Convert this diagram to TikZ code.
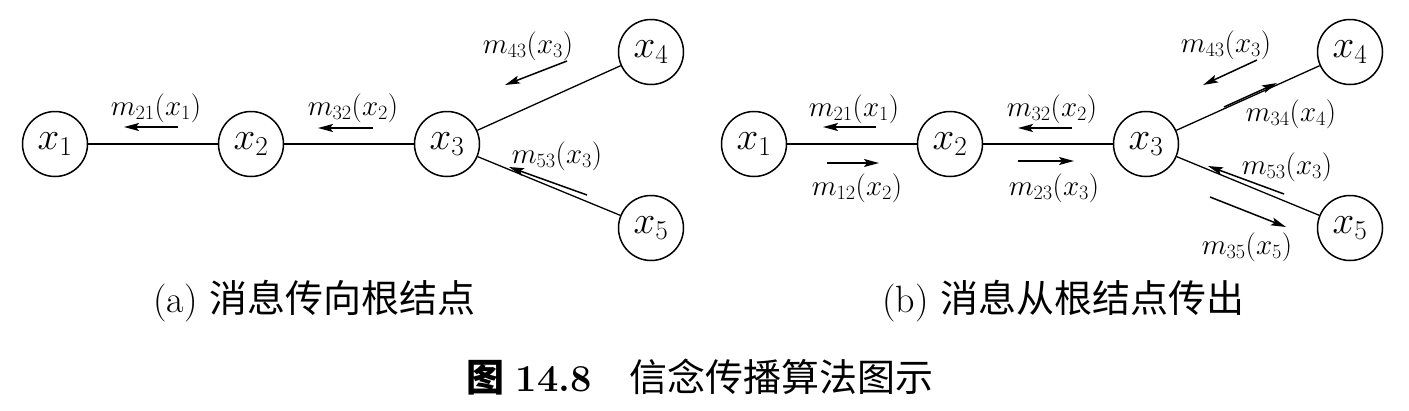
\RequirePackage{fix-cm}
\documentclass[tikz,border=0pt]{standalone}
\usepackage{fontspec}
\newfontfamily\cjk{Noto Sans CJK SC}
\usetikzlibrary{arrows.meta}
\tikzset{
  var/.style={circle, draw, line width=1.5pt, minimum size=65pt, inner sep=0pt,
    font=\fontsize{39}{41}\selectfont},
  msg/.style={inner sep=0pt, font=\fontsize{29}{31}\selectfont},
  link/.style={line width=1.3pt},
  flow/.style={line width=1.5pt, -{Stealth[length=15pt,width=8pt,inset=3pt]}},
  capt/.style={inner sep=0pt, font=\fontsize{38}{40}\selectfont},
}
\begin{document}
\begin{tikzpicture}[x=1pt,y=-1pt]
  \useasboundingbox (0,0) rectangle (1409,410);
  % (a) messages towards the root
  \node[var] (a1) at (55,144) {$x_1$};
  \node[var] (a2) at (251,144) {$x_2$};
  \node[var] (a3) at (447,144) {$x_3$};
  \node[var] (a4) at (651,52) {$x_4$};
  \node[var] (a5) at (651,228) {$x_5$};
  \draw[link] (a1) -- (a2);
  \draw[link] (a2) -- (a3);
  \draw[link] (a3) -- (a4);
  \draw[link] (a3) -- (a5);
  \coordinate (a21s) at (178,127); \coordinate (a21e) at (124,127);
  \coordinate (a32s) at (373,128); \coordinate (a32e) at (318,128);
  \coordinate (a43s) at (567,61);  \coordinate (a43e) at (505,85);
  \coordinate (a53s) at (587,195); \coordinate (a53e) at (509,167);
  \draw[flow] (a21s) -- (a21e);
  \draw[flow] (a32s) -- (a32e);
  \draw[flow] (a43s) -- (a43e);
  \draw[flow] (a53s) -- (a53e);
  \node[msg] (la21) at (156,108) {$m_{21}(x_1)$};
  \node[msg] (la32) at (353,108) {$m_{32}(x_2)$};
  \node[msg] (la43) at (528,46) {$m_{43}(x_3)$};
  \node[msg] (la53) at (557,156) {$m_{53}(x_3)$};
  \node[capt, anchor=west] (capa) at (153,301) {(a) {\cjk 消息传向根结点}};
  % (b) messages away from the root
  \begin{scope}[xshift=699pt]
    \node[var] (b1) at (55,144) {$x_1$};
    \node[var] (b2) at (251,144) {$x_2$};
    \node[var] (b3) at (447,144) {$x_3$};
    \node[var] (b4) at (651,52) {$x_4$};
    \node[var] (b5) at (651,228) {$x_5$};
    \draw[link] (b1) -- (b2);
    \draw[link] (b2) -- (b3);
    \draw[link] (b3) -- (b4);
    \draw[link] (b3) -- (b5);
    \coordinate (b21s) at (177,127); \coordinate (b21e) at (124,127);
    \coordinate (b12s) at (128,163); \coordinate (b12e) at (180,163);
    \coordinate (b32s) at (373,128); \coordinate (b32e) at (319,128);
    \coordinate (b23s) at (319,161); \coordinate (b23e) at (375,161);
    \coordinate (b43s) at (558,60);  \coordinate (b43e) at (504,85);
    \coordinate (b34s) at (525,107); \coordinate (b34e) at (578,83);
    \coordinate (b53s) at (585,194); \coordinate (b53e) at (509,166);
    \coordinate (b35s) at (511,197); \coordinate (b35e) at (587,227);
    \draw[flow] (b21s) -- (b21e);
    \draw[flow] (b12s) -- (b12e);
    \draw[flow] (b32s) -- (b32e);
    \draw[flow] (b23s) -- (b23e);
    \draw[flow] (b43s) -- (b43e);
    \draw[flow] (b34s) -- (b34e);
    \draw[flow] (b53s) -- (b53e);
    \draw[flow] (b35s) -- (b35e);
    \node[msg] (lb21) at (155,109) {$m_{21}(x_1)$};
    \node[msg] (lb12) at (158,188) {$m_{12}(x_2)$};
    \node[msg] (lb32) at (353,109) {$m_{32}(x_2)$};
    \node[msg] (lb23) at (355,188) {$m_{23}(x_3)$};
    \node[msg] (lb43) at (527,45) {$m_{43}(x_3)$};
    \node[msg] (lb34) at (592,114) {$m_{34}(x_4)$};
    \node[msg] (lb53) at (588,167) {$m_{53}(x_3)$};
    \node[msg] (lb35) at (548,247) {$m_{35}(x_5)$};
    \node[capt, anchor=west] (capb) at (183,301) {(b) {\cjk 消息从根结点传出}};
  \end{scope}
  \node[capt] (fig) at (700,377) {{\cjk\bfseries 图} \textbf{14.8}\quad{\cjk 信念传播算法图示}};
\end{tikzpicture}
\end{document}
